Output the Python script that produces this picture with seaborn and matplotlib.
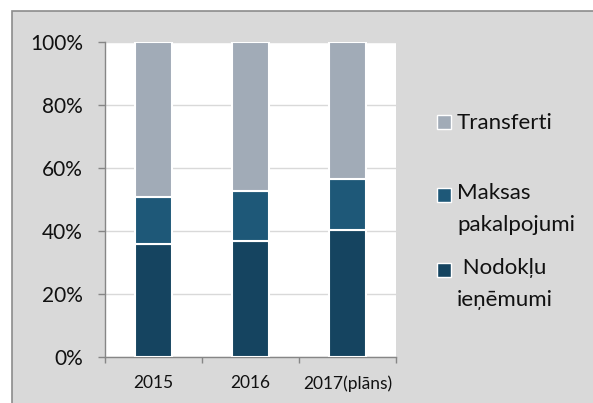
import matplotlib
matplotlib.use('Agg')
import matplotlib.pyplot as plt
import seaborn as sns
import pandas as pd
from matplotlib.patches import Rectangle

# Data (percent of total)
years = ['2015', '2016', '2017(plāns)']
nodoklu = [35.8, 36.9, 40.3]
maksas = [15.0, 15.8, 16.2]
transferti = [49.2, 47.3, 43.5]

# legend order top -> bottom
legend_labels = ['Transferti', 'Maksas\npakalpojumi', ' Nodokļu\nieņēmumi']
col_transf = '#a1abb7'
col_maksas = '#1e5878'
col_nodokl = '#154460'

sns.set_style('white')
plt.rcParams['font.family'] = ['Lato', 'DejaVu Sans']

W, H = 593, 403
fig = plt.figure(figsize=(W / 100, H / 100), dpi=100)
fig.patch.set_facecolor('white')

# gray chart box with border
fig.add_artist(Rectangle((12 / W, -0.05), 1.0, 1 - 11 / H + 0.05,
                         transform=fig.transFigure, facecolor='#d9d9d9',
                         edgecolor='#8c8c8c', lw=1.2, zorder=-10))

ax = fig.add_axes([105 / W, 1 - 357 / H, 291 / W, 315 / H])
ax.set_facecolor('white')

df = pd.DataFrame({'year': years, 'nod': nodoklu, 'mak': maksas, 'tra': transferti})
bottom_mak = list(df['nod'])
bottom_tra = list(df['nod'] + df['mak'])

bar_kw = dict(width=0.38, edgecolor='white', linewidth=1.5, saturation=1,
              errorbar=None, ax=ax, zorder=3)
sns.barplot(data=df, x='year', y='nod', color=col_nodokl, **bar_kw)
sns.barplot(data=df, x='year', y='mak', color=col_maksas, bottom=bottom_mak, **bar_kw)
sns.barplot(data=df, x='year', y='tra', color=col_transf, bottom=bottom_tra, **bar_kw)

ax.set_xlabel('')
ax.set_ylabel('')
ax.set_xlim(-0.5, 2.5)
ax.set_ylim(0, 100)
ax.set_yticks(range(0, 101, 20))
ax.set_yticklabels([f'{v}%' for v in range(0, 101, 20)])
ax.yaxis.grid(True, color='#d9d9d9', lw=1, zorder=0)
ax.set_axisbelow(True)

for s in ['top', 'right']:
    ax.spines[s].set_visible(False)
for s in ['left', 'bottom']:
    ax.spines[s].set_color('#868686')
    ax.spines[s].set_linewidth(1)

ax.tick_params(axis='y', length=5, width=1, color='#868686', pad=11,
               labelsize=15, labelcolor='#111111', left=True)
ax.tick_params(axis='x', which='major', length=0, pad=13,
               labelsize=12.5, labelcolor='#111111')
ax.set_xticks([-0.5, 0.5, 1.5, 2.5], minor=True)
ax.tick_params(axis='x', which='minor', length=4, width=1, color='#868686',
               direction='out', bottom=True)

# legend drawn by hand so squares line up with the first line of text
legend_colors = [col_transf, col_maksas, col_nodokl]
first_base = [129, 202, 277]
last_base = [129, 231, 306]
for lab, c, b, lb in zip(legend_labels, legend_colors, first_base, last_base):
    fig.add_artist(Rectangle((437 / W, 1 - b / H), 14 / W, 14 / H,
                             transform=fig.transFigure, facecolor=c,
                             edgecolor='white', lw=1))
    fig.text(457 / W, 1 - lb / H, lab, ha='left', va='baseline',
             fontsize=16, color='#111111', linespacing=1.75)

fig.savefig('out.png', dpi=100)
